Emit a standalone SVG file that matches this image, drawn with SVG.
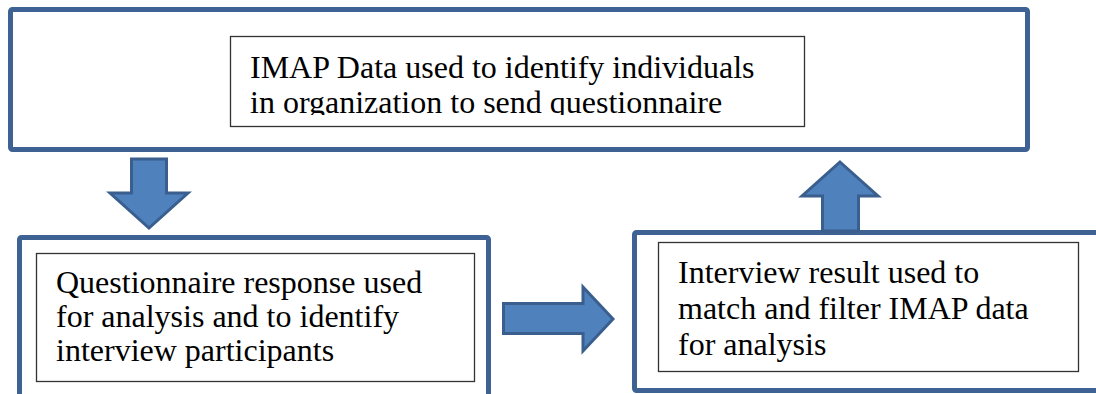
<svg xmlns="http://www.w3.org/2000/svg" width="1096" height="394" viewBox="0 0 1096 394">
  <style>
    .frame { fill: #ffffff; stroke: #3D6293; stroke-width: 5; }
    .label-box { fill: #ffffff; stroke: #333333; stroke-width: 1.3; }
    .label { font-family: 'Liberation Serif', 'Times New Roman', 'DejaVu Serif', serif; font-size: 32px; fill: #000000; }
    .arrow { fill: #4F81BD; stroke: #3A5F8E; stroke-width: 3; stroke-linejoin: miter; }
  </style>
  <defs>
    <clipPath id="clip-top"><rect x="231" y="37" width="573" height="78"/></clipPath>
    <clipPath id="clip-left"><rect x="37" y="254" width="437" height="115"/></clipPath>
    <clipPath id="clip-right"><rect x="659" y="243" width="419" height="128"/></clipPath>
  </defs>
  <rect width="1096" height="394" fill="#ffffff"/>

  <!-- Step 1: IMAP data -->
  <g id="node-imap">
    <rect class="frame" x="10.5" y="9.5" width="1017" height="140" rx="2"/>
    <rect class="label-box" x="230.5" y="36.5" width="574" height="90"/>
    <g clip-path="url(#clip-top)">
      <text class="label" x="250" y="78">IMAP Data used to identify individuals</text>
      <text class="label" x="250" y="113">in organization to send questionnaire</text>
    </g>
  </g>

  <!-- Step 2: questionnaire response -->
  <g id="node-questionnaire">
    <rect class="frame" x="19.5" y="237.5" width="469" height="200" rx="2"/>
    <rect class="label-box" x="36.5" y="253.5" width="438" height="128"/>
    <g clip-path="url(#clip-left)">
      <text class="label" x="56" y="293">Questionnaire response used</text>
      <text class="label" x="56" y="327">for analysis and to identify</text>
      <text class="label" x="56" y="361">interview participants</text>
    </g>
  </g>

  <!-- Step 3: interview result -->
  <g id="node-interview">
    <rect class="frame" x="634.5" y="232.5" width="500" height="158" rx="2"/>
    <rect class="label-box" x="658.5" y="242.5" width="420" height="129"/>
    <g clip-path="url(#clip-right)">
      <text class="label" x="678" y="283">Interview result used to</text>
      <text class="label" x="678" y="319">match and filter IMAP data</text>
      <text class="label" x="678" y="355">for analysis</text>
    </g>
  </g>

  <!-- Block arrows between the steps -->
  <g id="connectors">
    <path class="arrow" d="M131.5,159 H166.5 V193 H188 L149,228 L110,193 H131.5 Z"/>
    <path class="arrow" d="M503.5,303.5 H583 V287 L613,319 L583,351 V333.5 H503.5 Z"/>
    <path class="arrow" d="M840,162 L878,196 H858.5 V231 H822.5 V196 H802 Z"/>
  </g>
</svg>
